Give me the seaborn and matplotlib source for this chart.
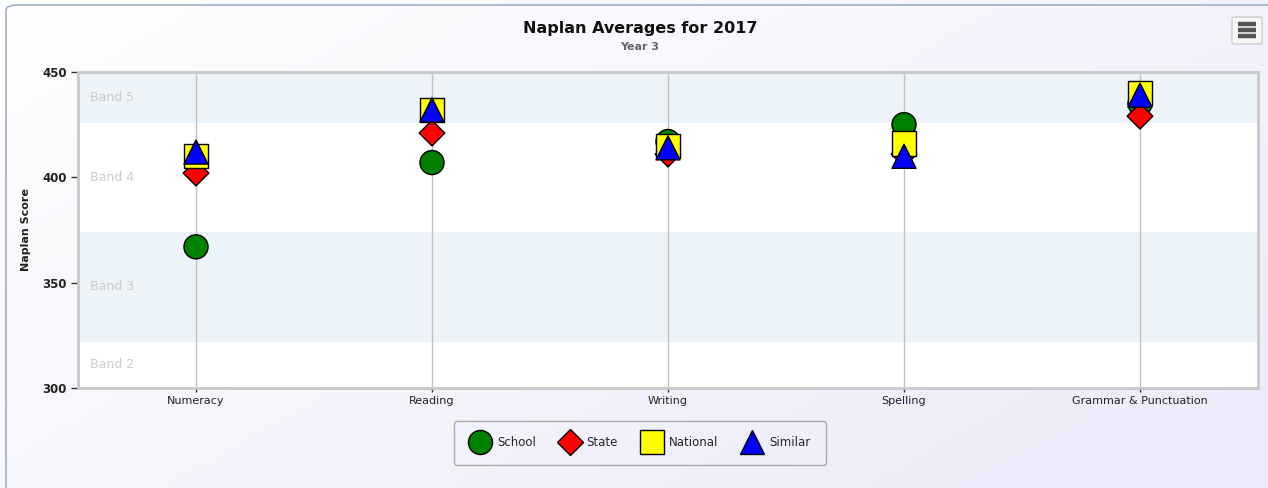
import numpy as np
import pandas as pd
import matplotlib
matplotlib.use("Agg")
import matplotlib.pyplot as plt
import seaborn as sns
from matplotlib.patches import FancyBboxPatch
from matplotlib.lines import Line2D
from matplotlib.transforms import blended_transform_factory

# ---- data ----
categories = ["Numeracy", "Reading", "Writing", "Spelling", "Grammar & Punctuation"]
school = [367, 407, 417, 425, 435]
state = [402, 421, 411, 411, 429]
national = [410, 432, 415, 416, 440]
similar = [412, 432, 414, 410, 439]
series_names = ["School", "State", "National", "Similar"]
band_names = ["Band 2", "Band 3", "Band 4", "Band 5"]
band_edges = [270, 322, 374, 426, 478]
y_ticks = [300, 350, 400, 450]

title = "Naplan Averages for 2017"
subtitle = "Year 3"
y_label = "Naplan Score"

# ---- style ----
colors = {"School": "#008000", "State": "#FF0000", "National": "#FFFF00", "Similar": "#0000FF"}
markers = {"School": "o", "State": "D", "National": "s", "Similar": "^"}
sizes = {"School": 300, "State": 170, "National": 310, "Similar": 300}

df = pd.DataFrame({
    "category": categories * 4,
    "score": school + state + national + similar,
    "series": sum([[s] * len(categories) for s in series_names], []),
})

sns.set_theme(style="white")
plt.rcParams["font.family"] = ["DejaVu Sans"]

W, H = 1268, 488
fig = plt.figure(figsize=(W / 100, H / 100), dpi=100)

# background gradient
bg = fig.add_axes([0, 0, 1, 1], zorder=-10)
yy, xx = np.mgrid[0:1:100j, 0:1:200j]
t = (xx * 0.6 + yy * 0.4)
c0 = np.array([1.0, 1.0, 1.0])
c1 = np.array([234, 234, 250]) / 255
img = c0[None, None, :] * (1 - t[..., None]) + c1[None, None, :] * t[..., None]
bg.imshow(img, extent=[0, 1, 0, 1], aspect="auto", origin="upper")
bg.set_axis_off()

# outer rounded border
fig.patches.append(FancyBboxPatch((6 / W, -0.05), 1.1, 1 - 5 / H + 0.05,
                                  boxstyle="round,pad=0,rounding_size=0.01",
                                  transform=fig.transFigure, fill=False,
                                  edgecolor="#9fb0c8", linewidth=1.2, zorder=-5))

ax = fig.add_axes([78 / W, 1 - 388 / H, (1258 - 78) / W, (388 - 72) / H])
ax.set_facecolor("white")

# bands
for i, name in enumerate(band_names):
    lo, hi = band_edges[i], band_edges[i + 1]
    if i % 2 == 1:
        ax.axhspan(lo, hi, color="#EDF4F9", zorder=0, lw=0)
    vis_lo, vis_hi = max(lo, y_ticks[0]), min(hi, y_ticks[-1])
    tr = blended_transform_factory(ax.transAxes, ax.transData)
    ax.text(0.01, (vis_lo + vis_hi) / 2, name, transform=tr, color="#cccccc",
            fontsize=9, va="center", ha="left", zorder=1)

sns.scatterplot(data=df, x="category", y="score", hue="series", style="series",
                size="series", palette=colors, markers=markers, sizes=sizes,
                hue_order=series_names, style_order=series_names, size_order=series_names,
                edgecolor="black", linewidth=1, alpha=1, legend=False, ax=ax, zorder=3)

ax.set_xlim(-0.5, len(categories) - 0.5)
ax.set_ylim(y_ticks[0], y_ticks[-1])
ax.set_yticks(y_ticks)
ax.set_xticks(range(len(categories)))
ax.set_xticklabels(categories)
for x in range(len(categories)):
    ax.axvline(x, color="#c0c0c0", lw=1, zorder=1)
ax.grid(False)
for s in ax.spines.values():
    s.set_color("#c8c8c8")
    s.set_linewidth(2)
ax.tick_params(axis="y", length=5, width=1, color="#333333", labelsize=8.5,
               labelcolor="#222222", left=True, pad=3)
ax.tick_params(axis="x", length=3, width=1, color="#333333", labelsize=8,
               labelcolor="#222222", bottom=True, pad=3)
for lab in ax.get_yticklabels():
    lab.set_fontweight("bold")
ax.set_xlabel("")
ax.set_ylabel(y_label, fontsize=8, fontweight="bold", color="#222222", labelpad=8)

fig.text(640 / W, 1 - 29 / H, title, ha="center", va="center", fontsize=11.5,
         fontweight="bold", color="#111111")
fig.text(640 / W, 1 - 47 / H, subtitle, ha="center", va="center", fontsize=8,
         fontweight="bold", color="#666666")

# menu icon
fig.patches.append(FancyBboxPatch((1232 / W, 1 - 44 / H), 30 / W, 27 / H,
                                  boxstyle="round,pad=0,rounding_size=0.003",
                                  transform=fig.transFigure, facecolor="#f7f7f7",
                                  edgecolor="#cccccc", linewidth=1))
for yp in (24, 30, 36):
    fig.lines.append(Line2D([1238 / W, 1256 / W], [1 - yp / H] * 2, transform=fig.transFigure,
                            color="#555555", lw=3.2, solid_capstyle="butt"))

handles = [Line2D([], [], marker=markers[s], linestyle="", markerfacecolor=colors[s],
                  markeredgecolor="black", markeredgewidth=1,
                  markersize=(np.sqrt(sizes[s]))) for s in series_names]
leg = fig.legend(handles, series_names, loc="center", bbox_to_anchor=(640 / W, 1 - 443 / H),
                 ncol=4, frameon=True, fontsize=8.5, handletextpad=0.5, columnspacing=2.0,
                 borderpad=1.3, handlelength=1.8, fancybox=True, borderaxespad=0)
leg.get_frame().set_edgecolor("#999999")
leg.get_frame().set_facecolor("none")
leg.get_frame().set_linewidth(1)

fig.savefig("out.png", dpi=100)
